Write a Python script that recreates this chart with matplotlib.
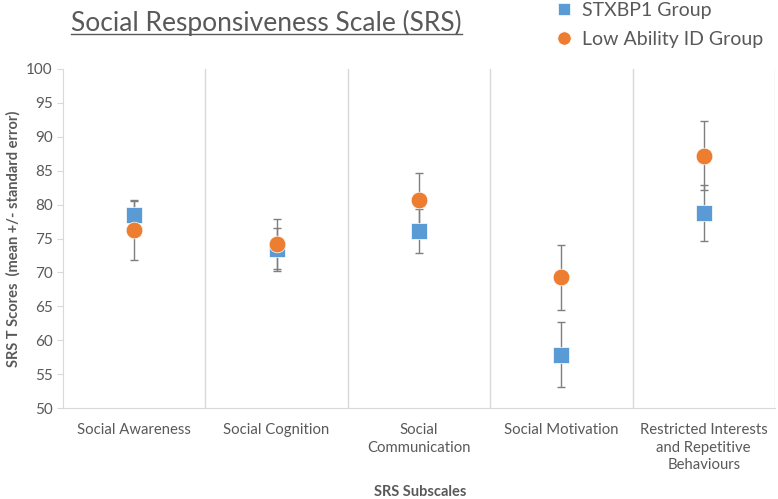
import matplotlib
matplotlib.use('Agg')
import matplotlib.pyplot as plt
import numpy as np

# SRS subscale data (mean +/- standard error)
categories = ["Social Awareness", "Social Cognition", "Social\nCommunication",
              "Social Motivation", "Restricted Interests\nand Repetitive\nBehaviours"]
stxbp1_mean = [78.5, 73.4, 76.1, 57.9, 78.8]
stxbp1_se = [2.2, 3.2, 3.3, 4.8, 4.1]
id_mean = [76.2, 74.2, 80.7, 69.3, 87.2]
id_se = [4.3, 3.7, 3.9, 4.8, 5.1]
yticks = list(range(50, 101, 5))

plt.rcParams['font.family'] = ['Lato', 'DejaVu Sans']

fig = plt.figure(figsize=(7.78, 4.99), dpi=100)
ax = fig.add_axes([0.081, 0.182, 0.915, 0.68])

x = np.arange(len(categories))
grey = '#7f7f7f'
txt = '#595959'

ax.errorbar(x, stxbp1_mean, yerr=stxbp1_se, fmt='none', ecolor=grey,
            elinewidth=1, capsize=3, capthick=1, zorder=2)
ax.errorbar(x, id_mean, yerr=id_se, fmt='none', ecolor=grey,
            elinewidth=1, capsize=3, capthick=1, zorder=2)
ax.plot(x, stxbp1_mean, 's', color='#5B9BD5', markersize=11,
        markeredgecolor='white', markeredgewidth=0.5, zorder=3, label='STXBP1 Group')
ax.plot(x, id_mean, 'o', color='#ED7D31', markersize=12,
        markeredgecolor='white', markeredgewidth=0.5, zorder=4, label='Low Ability ID Group')

ax.set_xlim(-0.5, len(categories) - 0.5)
ax.set_ylim(50, 100)
ax.set_yticks(yticks)
ax.set_xticks(x)
ax.set_xticklabels(categories, fontsize=10.7, color=txt, linespacing=1.3)
ax.tick_params(axis='y', labelsize=11, colors=txt, length=4, color='#d9d9d9')
ax.tick_params(axis='x', length=0, pad=11)

for b in np.arange(0.5, len(categories), 1.0):
    ax.axvline(b, color='#d9d9d9', linewidth=1, zorder=0)

for s in ['top', 'right']:
    ax.spines[s].set_visible(False)
for s in ['left', 'bottom']:
    ax.spines[s].set_color('#d9d9d9')

ax.set_ylabel('SRS T Scores  (mean +/- standard error)', fontsize=10.5,
              fontweight='bold', color=txt)
fig.text(0.54, 1 - 492 / 499, 'SRS Subscales', fontsize=10.5, fontweight='bold',
         color=txt, ha='center', va='center')

title = fig.text(71 / 778, 1 - 23 / 499, 'Social Responsiveness Scale (SRS)',
                 fontsize=19, color=txt, ha='left', va='center')
# underline under the title
fig.canvas.draw()
bb = title.get_window_extent().transformed(fig.transFigure.inverted())
fig.add_artist(plt.Line2D([bb.x0, bb.x1], [1 - 34 / 499, 1 - 34 / 499],
                          color=txt, linewidth=1))

fig.legend(loc='upper left', bbox_to_anchor=(537 / 778, 1.032), frameon=False,
           fontsize=14, labelcolor=txt, handletextpad=0.4, labelspacing=0.62,
           handlelength=1.0, markerscale=0.8)

fig.savefig('out.png', dpi=100)
